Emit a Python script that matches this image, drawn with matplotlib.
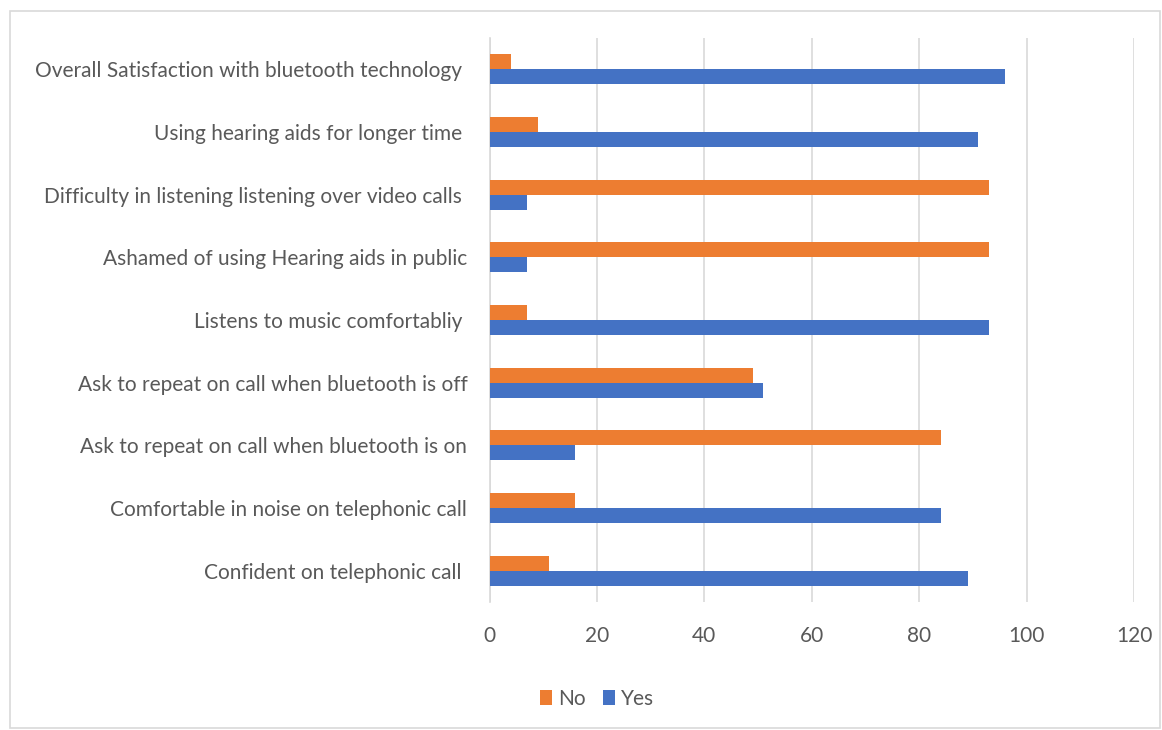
import matplotlib
matplotlib.use("Agg")
import matplotlib.pyplot as plt
import numpy as np
from matplotlib.patches import Rectangle

categories = [
    "Overall Satisfaction with bluetooth technology ",
    "Using hearing aids for longer time ",
    "Difficulty in listening listening over video calls ",
    "Ashamed of using Hearing aids in public",
    "Listens to music comfortabliy ",
    "Ask to repeat on call when bluetooth is off",
    "Ask to repeat on call when bluetooth is on",
    "Comfortable in noise on telephonic call",
    "Confident on telephonic call ",
]
no_values = [4, 9, 93, 93, 7, 49, 84, 16, 11]
yes_values = [96, 91, 7, 7, 93, 51, 16, 84, 89]
x_ticks = [0, 20, 40, 60, 80, 100, 120]

plt.rcParams['font.family'] = ['Lato', 'DejaVu Sans']
text_color = "#595959"
orange = "#ED7D31"
blue = "#4472C4"
grid_color = "#D9D9D9"

fig = plt.figure(figsize=(11.62, 7.30), dpi=100)
W, H = 1162, 730
ax = fig.add_axes([489.5 / W, 1 - 602 / H, (1134 - 489.5) / W, (602 - 38) / H])

n = len(categories)
y = np.arange(n)[::-1]
h = 0.24
ax.barh(y + h / 2, no_values, height=h, color=orange, label="No", zorder=3)
ax.barh(y - h / 2, yes_values, height=h, color=blue, label="Yes", zorder=3)

ax.set_xlim(0, 120)
ax.set_ylim(-0.5, n - 0.5)
ax.set_xticks(x_ticks)
ax.set_xticklabels([str(t) for t in x_ticks])
ax.set_yticks(y)
ax.set_yticklabels(categories)
ax.tick_params(axis='both', length=0, colors=text_color)
ax.tick_params(axis='y', pad=16, labelsize=15)
ax.tick_params(axis='x', pad=17, labelsize=15)
ax.xaxis.grid(True, color=grid_color, linewidth=1.2, zorder=0)
for s in ['top', 'right', 'bottom']:
    ax.spines[s].set_visible(False)
ax.spines['left'].set_color(grid_color)
ax.spines['left'].set_linewidth(1.2)

leg = fig.legend(loc='center', bbox_to_anchor=(597 / W, 1 - 699 / H), ncol=2,
                 frameon=False, fontsize=15, handlelength=0.6, handleheight=0.7,
                 handletextpad=0.3, columnspacing=0.8)
for t in leg.get_texts():
    t.set_color(text_color)

fig.patches.append(Rectangle((9.5 / W, 1 - 728 / H), (1159.5 - 9.5) / W, (728 - 11) / H,
                             transform=fig.transFigure, fill=False,
                             edgecolor=grid_color, linewidth=1.2))

fig.savefig("out.png", dpi=100)
